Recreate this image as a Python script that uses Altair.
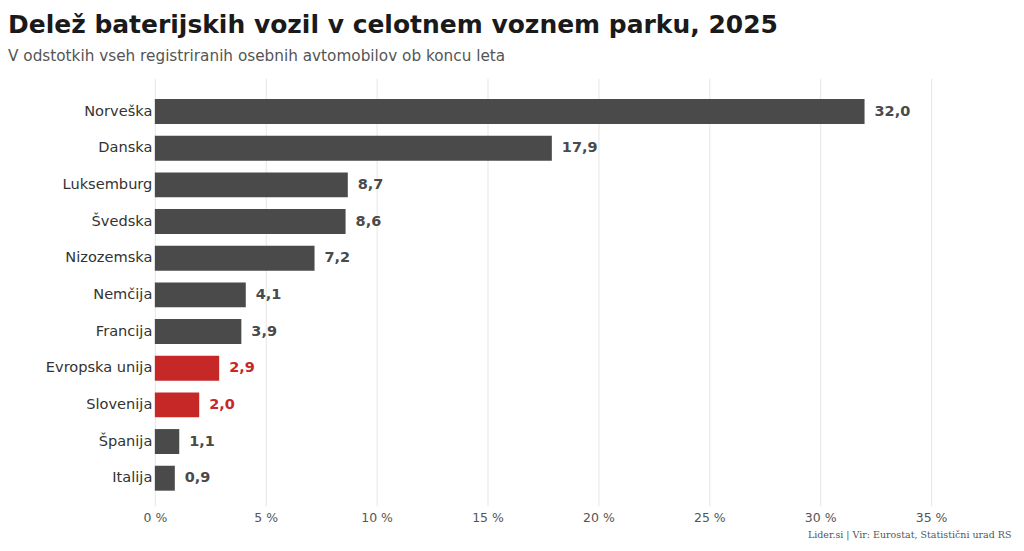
import altair as alt
import pandas as pd

countries = ["Norveška", "Danska", "Luksemburg", "Švedska", "Nizozemska", "Nemčija",
             "Francija", "Evropska unija", "Slovenija", "Španija", "Italija"]
shares = [32.0, 17.9, 8.7, 8.6, 7.2, 4.1, 3.9, 2.9, 2.0, 1.1, 0.9]
highlight = ["Evropska unija", "Slovenija"]
x_ticks = [0, 5, 10, 15, 20, 25, 30, 35]

df = pd.DataFrame({"country": countries, "share": shares})
df["label"] = [f"{v:.1f}".replace(".", ",") for v in shares]
df["group"] = ["hl" if c in highlight else "base" for c in countries]

color_scale = alt.Scale(domain=["base", "hl"], range=["#4a4a4a", "#c62828"])

y_enc = alt.Y("country:N", sort=countries, title=None,
              scale=alt.Scale(paddingInner=0.32, paddingOuter=0.49, align=0.58),
              axis=alt.Axis(labelFont="DejaVu Sans", labelFontSize=14.6, labelColor="#333333",
                            labelPadding=3, domain=False, ticks=False, minExtent=140, labelLimit=200))
x_enc = alt.X("share:Q", scale=alt.Scale(domain=[0, 35], nice=False),
              axis=alt.Axis(values=x_ticks, labelExpr="datum.value + ' %'",
                            labelFont="DejaVu Sans", labelFontSize=12.5, labelColor="#555555",
                            labelPadding=6, labelFlush=False, domain=False, ticks=False, grid=True,
                            gridColor="#e6e6e6", gridWidth=1,
                            title="Lider.si | Vir: Eurostat, Statistični urad RS",
                            titleFont="DejaVu Serif", titleFontSize=9.5, titleFontWeight="normal",
                            titleColor="#555555", titleAlign="right", titleAnchor="start",
                            titleX=857, titleY=32, titleBaseline="alphabetic"))

bars = alt.Chart(df).mark_bar().encode(
    x=x_enc, y=y_enc,
    color=alt.Color("group:N", scale=color_scale, legend=None),
)
labels = alt.Chart(df).mark_text(align="left", baseline="middle", dx=10,
                                 font="DejaVu Sans", fontSize=14.5, fontWeight="bold").encode(
    x="share:Q", y=alt.Y("country:N", sort=countries),
    text="label:N",
    color=alt.Color("group:N", scale=alt.Scale(domain=["base", "hl"], range=["#444444", "#c62828"]), legend=None),
)

chart = (bars + labels).properties(
    width=777, height=428,
    background="white",
    padding={"left": 0, "top": 4, "right": 5, "bottom": 5},
    title=alt.TitleParams(
        "Delež baterijskih vozil v celotnem voznem parku, 2025",
        subtitle="V odstotkih vseh registriranih osebnih avtomobilov ob koncu leta",
        anchor="start", frame="group", dx=-147,
        font="DejaVu Sans", fontSize=25, fontWeight="bold", color="#1a1a1a",
        subtitleFont="DejaVu Sans", subtitleFontSize=15.3, subtitleColor="#555555",
        subtitlePadding=11, offset=14,
    ),
).configure_view(strokeOpacity=0, strokeWidth=0)

chart.save("out.html", embed_options={"renderer": "svg", "actions": False})
